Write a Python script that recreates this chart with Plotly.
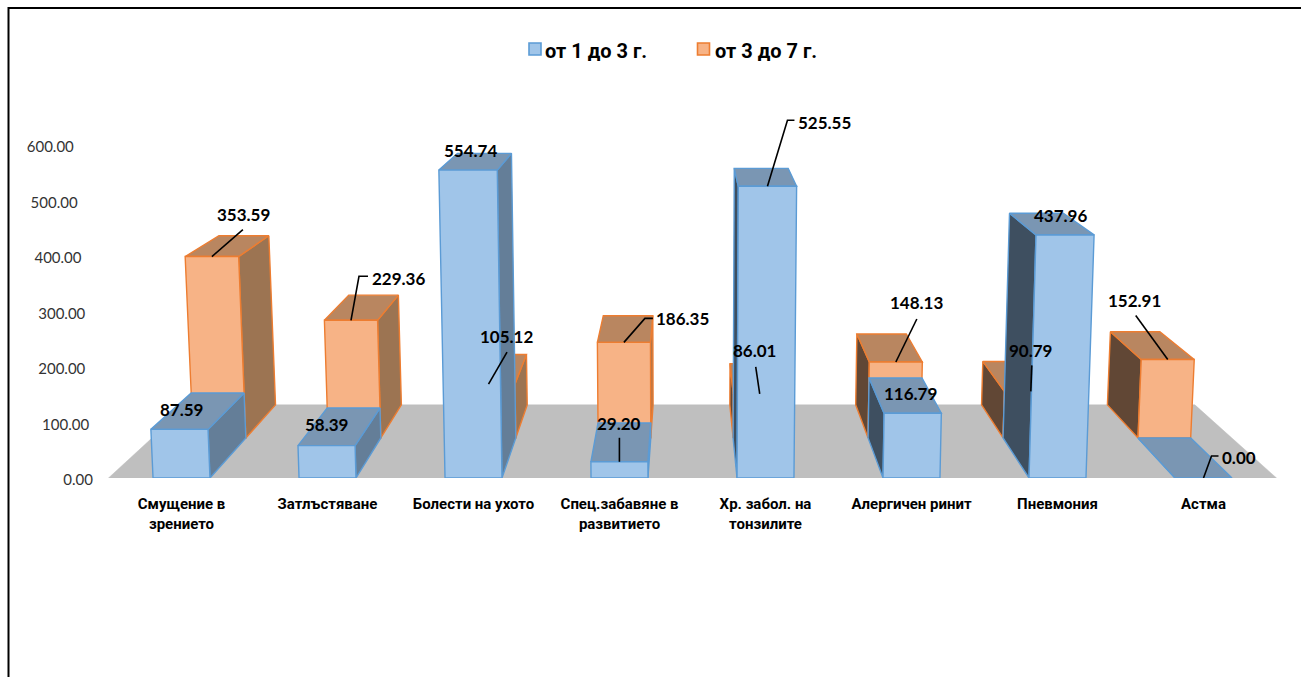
import plotly.graph_objects as go

# ---- data -------------------------------------------------------------
categories = ["Смущение в<br>зрението", "Затлъстяване", "Болести на ухото",
              "Спец.забавяне в<br>развитието", "Хр. забол. на<br>тонзилите",
              "Алергичен ринит", "Пневмония", "Астма"]
series_names = ["от 1 до 3 г.", "от 3 до 7 г."]
values_1_3 = [87.59, 58.39, 554.74, 29.20, 525.55, 116.79, 437.96, 0.00]
values_3_7 = [353.59, 229.36, 105.12, 186.35, 86.01, 148.13, 90.79, 152.91]
y_ticks = [0, 100, 200, 300, 400, 500, 600]

# ---- label placement, px relative to the bar's top-front centre --------
label_off_1_3 = [(2, -20), (0, -21), (2, -20), (0, -38), (57.5, -64), (-2, -20), (-5, -19), (35.5, -21)]
leader_1_3 = [None, None, None, [(0, -24)], [(20, -66), (27, -66)], None, None, [(8, -22), (15, -22)]]
label_off_3_7 = [(32, -42), (48, -42), (17.5, -48), (59, -24), (-5, -43), (21, -59), (0, -41), (-33, -59)]
leader_3_7 = [[(31, -27)], [(8, -44), (17, -44)], [(18.5, -32)], [(21, -24), (29, -24)],
              [(-4, -27)], [(21, -43)], [(1, -26)], [(-32, -44)]]
# value labels step leftwards with height along the floor's slanted edge
tick_pad_spaces = [0, 1, 2, 2, 3, 4, 5]

# ---- scene geometry -----------------------------------------------------
W, H = 1301, 677
PLOT_L = 94
FLOOR_PX = 478          # pixel row of value 0
PX_PER_VALUE = 0.555
PX_PER_CAT = 146.0
CAT0_PX = 108.5         # pixel column of category position 0
VP_X = (685 - CAT0_PX) / PX_PER_CAT      # vanishing point, category units
VP_Y = (FLOOR_PX + 52) / PX_PER_VALUE    # vanishing point, value units
FAN = 12000 / PX_PER_VALUE               # fan-out of the uprights, value units
BAR_W = 0.39
S_FRONT, S_MID, S_BACK = 1.0, 0.9245, 0.862
FLOOR_L, FLOOR_R = 0.0, 8.0


def project(x, v, s):
    """Perspective of a scene point (category pos, value, depth scale) on the axes."""
    return VP_X + (x - VP_X) * s * (1 + v / FAN), VP_Y + (v - VP_Y) * s


def px_dx(dx):
    return dx / PX_PER_CAT


def px_dy(dy):
    return -dy / PX_PER_VALUE


def poly(points, fill, line, width=1.4):
    xs = [p[0] for p in points] + [points[0][0]]
    ys = [p[1] for p in points] + [points[0][1]]
    return go.Scatter(x=xs, y=ys, mode="lines", fill="toself", fillcolor=fill,
                      line=dict(color=line, width=width), hoverinfo="skip",
                      showlegend=False, cliponaxis=False)


def bar_faces(i, v, s0, s1, c):
    xl, xr = i + 0.5 - BAR_W / 2, i + 0.5 + BAR_W / 2
    faces = []
    if xl > VP_X:
        faces.append(poly([project(xl, 0, s0), project(xl, v, s0), project(xl, v, s1), project(xl, 0, s1)],
                          c["left"], c["line"]))
    if xr < VP_X:
        faces.append(poly([project(xr, 0, s0), project(xr, v, s0), project(xr, v, s1), project(xr, 0, s1)],
                          c["right"], c["line"]))
    faces.append(poly([project(xl, v, s0), project(xr, v, s0), project(xr, v, s1), project(xl, v, s1)],
                      c["top"], c["line"]))
    if v > 0:
        faces.append(poly([project(xl, 0, s0), project(xr, 0, s0), project(xr, v, s0), project(xl, v, s0)],
                          c["front"], c["line"]))
    return faces


BLUE = dict(front="#A0C5E9", top="#7A96B3", right="#647E98", left="#3E4F60", line="#5B9BD5")
ORANGE = dict(front="#F7B386", top="#B98660", right="#9C7452", left="#614735", line="#ED7D31")

fig = go.Figure()

# floor
fig.add_trace(poly([project(FLOOR_L, 0, S_FRONT), project(FLOOR_R, 0, S_FRONT),
                    project(FLOOR_R, 0, S_BACK), project(FLOOR_L, 0, S_BACK)],
                   "#BFBFBF", "#BFBFBF", 0.5))

for i, v in enumerate(values_3_7):
    for f in bar_faces(i, v, S_MID, S_BACK, ORANGE):
        fig.add_trace(f)
for i, v in enumerate(values_1_3):
    for f in bar_faces(i, v, S_FRONT, S_MID, BLUE):
        fig.add_trace(f)

# legend text comes from these entries; the swatch sits closer to the text than a
# Plotly legend allows, so the swatch itself is a shape and the symbol is transparent
for name in series_names:
    fig.add_trace(go.Scatter(x=[None], y=[None], mode="markers", name=name,
                             marker=dict(symbol="square", size=12, color="rgba(0,0,0,0)")))

LABEL_FONT = dict(family="Lato", size=17, color="#000000", weight="bold")
annotations = []
for values, s, offs, leaders in ((values_3_7, S_MID, label_off_3_7, leader_3_7),
                                 (values_1_3, S_FRONT, label_off_1_3, leader_1_3)):
    for i, v in enumerate(values):
        ax, ay = project(i + 0.5, v, s)
        annotations.append(dict(x=ax + px_dx(offs[i][0]), y=ay + px_dy(offs[i][1]), xref="x", yref="y",
                                text=f"{v:.2f}", showarrow=False, font=LABEL_FONT,
                                xanchor="center", yanchor="middle"))
        if leaders[i]:
            xs = [ax] + [ax + px_dx(p[0]) for p in leaders[i]]
            ys = [ay] + [ay + px_dy(p[1]) for p in leaders[i]]
            fig.add_trace(go.Scatter(x=xs, y=ys, mode="lines", line=dict(color="#000000", width=1.6),
                                     hoverinfo="skip", showlegend=False, cliponaxis=False))

plot_w = W - PLOT_L


def paper_x(px):
    return (px - PLOT_L) / plot_w


def paper_y(py):
    return (FLOOR_PX - py) / FLOOR_PX


# outer frame: left and top only, as in the picture
shapes = [dict(type="path", xref="paper", yref="paper",
               path=f"M {paper_x(8.5)} {paper_y(H)} L {paper_x(8.5)} {paper_y(8)} L 1 {paper_y(8)}",
               line=dict(color="#000000", width=2))]
for left, c in ((529, BLUE), (697.5, ORANGE)):
    shapes.append(dict(type="rect", xref="paper", yref="paper",
                       x0=paper_x(left), x1=paper_x(left + 12), y0=paper_y(55), y1=paper_y(43),
                       fillcolor=c["front"], line=dict(color=c["line"], width=1.6)))

fig.update_layout(
    width=W, height=H, margin=dict(l=PLOT_L, r=0, t=0, b=H - FLOOR_PX, pad=0),
    paper_bgcolor="#FFFFFF", plot_bgcolor="rgba(0,0,0,0)",
    xaxis=dict(range=[(PLOT_L - CAT0_PX) / PX_PER_CAT, (W - CAT0_PX) / PX_PER_CAT],
               tickmode="array", tickvals=[i + 0.5 for i in range(len(categories))],
               ticktext=categories, tickangle=0, showgrid=False, zeroline=False, showline=False,
               ticks="", fixedrange=True, automargin=False, ticklabelstandoff=15,
               tickfont=dict(family="Roboto", size=15, color="#000000", weight="bold")),
    yaxis=dict(range=[0, FLOOR_PX / PX_PER_VALUE], tickmode="array", tickvals=y_ticks,
               ticktext=[f"{t:.2f}" + "\u00a0" * n for t, n in zip(y_ticks, tick_pad_spaces)],
               showgrid=False, zeroline=False, showline=False, ticks="",
               fixedrange=True, automargin=False, ticklabelshift=2,
               tickfont=dict(family="Lato", size=15, color="#333333")),
    legend=dict(orientation="h", x=paper_x(505), xanchor="left", y=paper_y(30.5), yanchor="top",
                xref="paper", yref="paper", entrywidth=125, entrywidthmode="pixels",
                bgcolor="rgba(0,0,0,0)",
                font=dict(family="Roboto", size=20, color="#000000", weight="bold")),
    annotations=annotations, shapes=shapes,
)

fig.write_html("out.html", config=dict(displayModeBar=False),
               post_script="document.body.style.margin='0';")
